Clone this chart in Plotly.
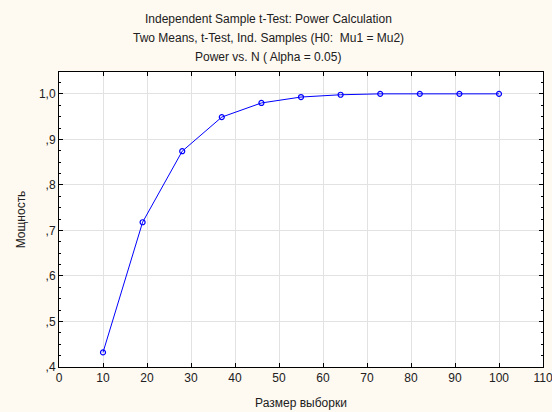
import plotly.graph_objects as go

sample_size = [10, 19, 28, 37, 46, 55, 64, 73, 82, 91, 100]
power = [0.432, 0.718, 0.874, 0.949, 0.980, 0.993, 0.998, 1.0, 1.0, 1.0, 1.0]

y_tickvals = [0.4, 0.5, 0.6, 0.7, 0.8, 0.9, 1.0]
y_ticktext = [",4", ",5", ",6", ",7", ",8", ",9", "1,0"]
x_tickvals = [0, 10, 20, 30, 40, 50, 60, 70, 80, 90, 100, 110]

title_lines = [
    "Independent Sample t-Test: Power Calculation",
    "Two Means, t-Test, Ind. Samples (H0:  Mu1 = Mu2)",
    "Power vs. N ( Alpha = 0.05)",
]

font = dict(family="Liberation Sans, Arial, sans-serif", size=12, color="#202020")

fig = go.Figure()
fig.add_trace(go.Scatter(
    x=sample_size, y=power, mode="lines+markers",
    line=dict(color="#0000FF", width=1),
    marker=dict(symbol="circle-open", size=5, color="#0000FF", line=dict(width=1.2)),
    showlegend=False,
))

annotations = []
for i, t in enumerate(title_lines):
    annotations.append(dict(
        text=t, xref="paper", yref="paper", x=0.432, y=1,
        xanchor="center", yanchor="middle", yshift=53 - 19 * i,
        showarrow=False, font=font,
    ))

fig.update_layout(
    width=552, height=412,
    margin=dict(l=59, r=9, t=72, b=45),
    paper_bgcolor="#FEF9F1",
    plot_bgcolor="#FFFFFF",
    font=font,
    annotations=annotations,
    xaxis=dict(
        range=[0, 110], tickvals=x_tickvals, ticks="inside", ticklen=4,
        tickcolor="#000000", mirror="ticks", showline=True, linecolor="#000000",
        linewidth=1, showgrid=True, gridcolor="#E2E2E2", gridwidth=1, zeroline=False,
        ticklabeloverflow="allow", automargin=False,
        title=dict(text="Размер выборки", standoff=14, font=font),
    ),
    yaxis=dict(
        range=[0.4, 1.048], tickvals=y_tickvals, ticktext=y_ticktext, ticks="inside",
        ticklen=4, tickcolor="#000000", mirror="ticks", showline=True,
        linecolor="#000000", linewidth=1, showgrid=True, gridcolor="#E2E2E2",
        gridwidth=1, zeroline=False, automargin=False,
        minor=dict(dtick=0.025, ticks="inside", ticklen=2, tickcolor="#000000", showgrid=False),
        title=dict(text="Мощность", standoff=10, font=font),
    ),
)

fig.write_html("out.html")
